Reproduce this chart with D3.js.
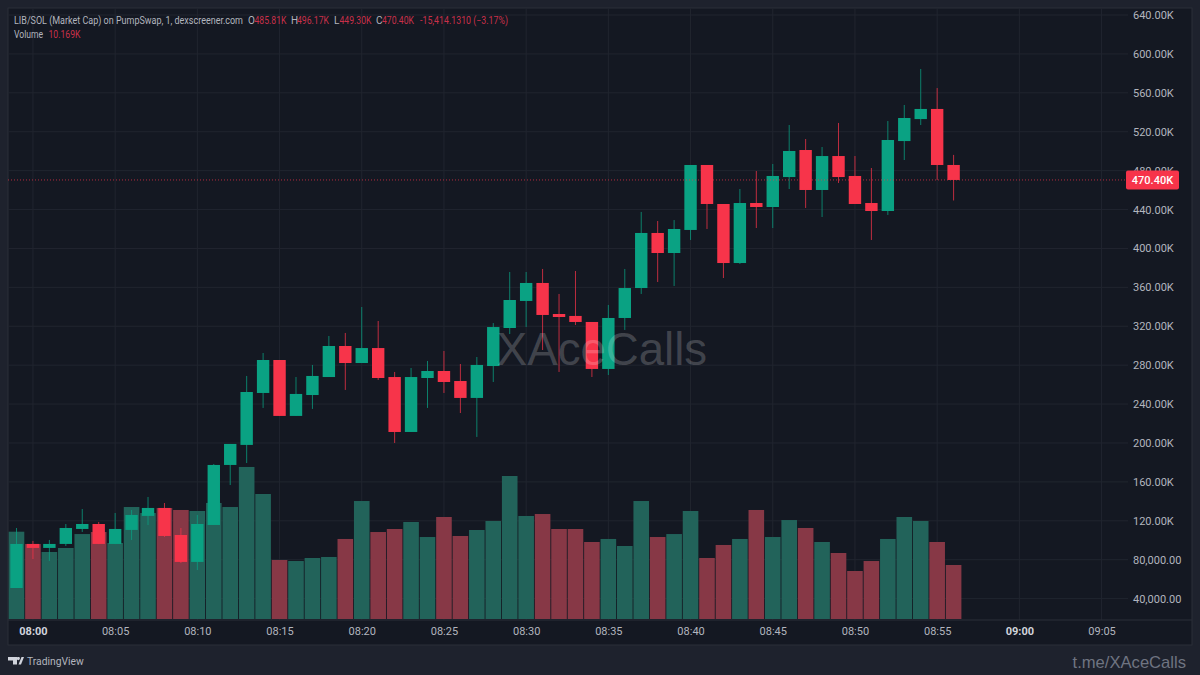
<!DOCTYPE html>
<html lang="en">
<head>
<meta charset="utf-8">
<title>LIB/SOL Market Cap</title>
<script src="https://cdn.jsdelivr.net/npm/d3@7"></script>
<style type="text/css">
    html, body { margin: 0; padding: 0; background: #1e222d; }
    svg { display: block; }
    text { font-family: Roboto, sans-serif; }
    .axis path, .axis line { display: none; }
    .axis text { font-size: 11px; fill: #b2b5be; }
</style>
</head>
<body>
<script type="text/javascript">
// values in thousands
var opens = [50.9,96.2,92.1,96.2,111.6,116.7,96.2,110.6,125,133.2,105.4,77.7,115.7,177.4,198,251.4,285.3,227.8,249.3,267.8,299.7,282.2,297.6,267.8,211.3,266.8,274,263.7,246.3,279.1,318.2,346,364.5,332.6,330.6,324.4,276.1,328.5,359.3,415.9,395.3,419,485.8,445.7,385,446.7,442.6,473.4,501.2,460.1,495,474.5,446.7,438.5,510.4,533,543.4,485.81];
var highs = [112.6,99.3,100.3,116.7,132.1,118.8,128,131.1,144.5,138.3,112.6,126,178.4,199,268.9,292.5,285.3,267.8,280.2,310,313.1,339.8,325.4,273,277.1,284.3,294.6,281.2,288.4,323.3,375.8,375.8,378.9,353.2,376.8,324.4,341.9,378.9,437.5,428.2,429.2,485.8,485.8,445.7,461.1,479.6,486.8,526.9,512.5,504.3,529,495,482.7,531,547.5,584.5,564.9,496.17];
var lows = [50.9,80.7,78.7,94.1,108.5,96,96,100.3,115.7,103.4,76.6,69.4,115.7,156.8,179.4,236,227.8,227.8,235,267.8,254.5,282.2,264.8,200,211.3,236,251.4,230.8,206.2,262.7,312,319.2,295.6,273,321.3,267.8,269.9,316.2,353.2,365.5,361.4,408.7,420,369.6,384,421,421,461.1,441.6,432.3,467.3,445.7,408.7,434.4,490.9,526.9,470.4,449.3];
var closes = [96.2,92.1,96.2,112.6,116.7,96.2,111.6,126,133.2,104.4,77.7,116.7,177.4,199,252.4,285.3,227.8,250.4,268.9,299.7,282.2,297.6,266.8,211.3,267.8,274,262.7,246.3,280.2,319.2,347,364.5,331.6,329.5,324.4,276.1,328.5,359.3,415.9,395.3,420,485.8,445.7,385,446.7,442.6,474.5,500.2,460.1,495,473.4,445.7,438.5,511.5,534.1,543.4,485.8,470.4];
var volumes = [16.44,14.12,12.62,13.37,16,16.38,14.31,21.09,19.96,20.9,20.53,20.34,21.85,21.09,28.63,23.54,11.11,10.92,11.49,11.68,15.07,22.22,16.38,16.95,18.27,15.44,19.21,15.63,16.76,18.46,26.93,19.4,19.77,16.95,16.95,14.5,15.07,13.75,22.22,15.44,16,20.34,11.49,13.94,15.07,20.53,15.44,18.64,17.14,14.5,12.43,9.04,10.92,15.07,19.21,18.46,14.5,10.169];
// volume colour does not always follow the candle
var volumeUp = [1,0,1,1,1,0,1,1,1,0,0,1,1,1,1,1,0,1,1,1,0,1,0,0,1,1,0,0,1,1,1,1,0,0,0,0,1,1,1,0,1,1,0,0,1,0,1,1,0,1,0,0,0,1,1,1,0,0];

var priceTicks = [640,600,560,520,480,440,400,360,320,280,240,200,160,120,80,40];
var timeTicks = [1,6,11,16,21,26,31,36,41,46,51,56,61,66];
var timeLabels = ["08:00","08:05","08:10","08:15","08:20","08:25","08:30","08:35","08:40","08:45","08:50","08:55","09:00","09:05"];
var lastPrice = 470.4;

var legendTitle = "LIB/SOL (Market Cap) on PumpSwap, 1, dexscreener.com";
var legendLabels = ["O","H","L","C"];
var legendValues = ["485.81K","496.17K","449.30K","470.40K"];
var legendChange = "-15,414.1310 (−3.17%)";
var volumeLegend = "10.169K";

var w = 1200;
var h = 675;
var green = "#0aa283";
var red = "#f7344a";
var volGreen = "#22635a";
var volRed = "#873846";
var gridColor = "#21252f";

var paneLeft = 8, paneTop = 8, paneRight = 1192, paneBottom = 645, plotBottom = 620;

var x = d3.scaleLinear().domain([0, 57]).range([16.5, 953.6]);
var y = d3.scaleLinear().domain([640, 40]).range([15, 598.6]);
var yVol = d3.scaleLinear().domain([0, 10.169]).range([619, 565]);

var bodyW = 12.4;
var volW = 15.6;

var svg = d3.select("body").append("svg").attr("width", w).attr("height", h);

svg.append("rect").attr("width", w).attr("height", h).attr("fill", "#1e222d");
svg.append("rect")
    .attr("x", paneLeft).attr("y", paneTop)
    .attr("width", paneRight - paneLeft).attr("height", paneBottom - paneTop)
    .attr("fill", "#141822")
    .attr("stroke", "#2a2e39");

// grid
svg.selectAll(".hgrid").data(priceTicks).enter().append("line")
    .attr("x1", paneLeft).attr("x2", 1128)
    .attr("y1", function(d) { return y(d); }).attr("y2", function(d) { return y(d); })
    .attr("stroke", gridColor);
svg.selectAll(".vgrid").data(timeTicks).enter().append("line")
    .attr("x1", function(d) { return x(d); }).attr("x2", function(d) { return x(d); })
    .attr("y1", paneTop).attr("y2", plotBottom)
    .attr("stroke", gridColor);
svg.append("line")
    .attr("x1", paneLeft).attr("x2", paneRight)
    .attr("y1", plotBottom).attr("y2", plotBottom)
    .attr("stroke", "#2a2e39");

// volume
svg.selectAll(".vol").data(volumes).enter().append("rect")
    .attr("x", function(d, i) { return x(i) - volW / 2; })
    .attr("y", function(d) { return yVol(d); })
    .attr("width", volW)
    .attr("height", function(d) { return yVol(0) - yVol(d); })
    .attr("fill", function(d, i) { return volumeUp[i] ? volGreen : volRed; });

// wicks
svg.selectAll(".wick").data(opens).enter().append("line")
    .attr("x1", function(d, i) { return x(i); })
    .attr("x2", function(d, i) { return x(i); })
    .attr("y1", function(d, i) { return y(highs[i]); })
    .attr("y2", function(d, i) { return y(lows[i]); })
    .attr("stroke", function(d, i) { return closes[i] >= d ? green : red; })
    .attr("stroke-opacity", 0.75);

// bodies
svg.selectAll(".body").data(opens).enter().append("rect")
    .attr("x", function(d, i) { return x(i) - bodyW / 2; })
    .attr("y", function(d, i) { return y(Math.max(d, closes[i])); })
    .attr("width", bodyW)
    .attr("height", function(d, i) { return Math.abs(y(d) - y(closes[i])); })
    .attr("fill", function(d, i) { return closes[i] >= d ? green : red; });

// watermark goes over the candles
svg.append("text")
    .attr("x", 602).attr("y", 365)
    .attr("text-anchor", "middle")
    .style("font-family", "'Liberation Sans', sans-serif")
    .style("font-size", "45.6px")
    .attr("fill", "#ffffff").attr("fill-opacity", 0.2)
    .text("XAceCalls");

// last price line
svg.append("line")
    .attr("x1", paneLeft).attr("x2", 1126)
    .attr("y1", y(lastPrice)).attr("y2", y(lastPrice))
    .attr("stroke", red).attr("stroke-opacity", 0.7)
    .attr("stroke-dasharray", "1 2");

// price axis
var priceFormat = function(d) {
    return d >= 100 ? d3.format(".2f")(d) + "K" : d3.format(",.2f")(d * 1000);
};
svg.append("g")
    .attr("class", "axis")
    .attr("transform", "translate(1133,0)")
    .call(d3.axisRight(y).tickValues(priceTicks).tickFormat(priceFormat).tickSize(0).tickPadding(0));

svg.append("rect")
    .attr("x", 1126).attr("y", y(lastPrice) - 9.5)
    .attr("width", 53).attr("height", 19)
    .attr("rx", 2)
    .attr("fill", red);
svg.append("text")
    .attr("x", 1152.5).attr("y", y(lastPrice) + 4)
    .attr("text-anchor", "middle")
    .attr("fill", "#ffffff")
    .style("font-size", "11px")
    .style("font-weight", 500)
    .text(priceFormat(lastPrice));

// time axis
var timeAxis = svg.append("g")
    .attr("class", "axis")
    .attr("transform", "translate(0," + plotBottom + ")")
    .call(d3.axisBottom(x).tickValues(timeTicks)
        .tickFormat(function(d, i) { return timeLabels[i]; })
        .tickSize(0).tickPadding(7));
timeAxis.selectAll("text")
    .style("font-weight", function(d, i) { return /:00$/.test(timeLabels[i]) ? 700 : 400; })
    .style("fill", function(d, i) { return /:00$/.test(timeLabels[i]) ? "#d1d4dc" : "#b2b5be"; });

// legend, squeezed to the widths in the picture
var legend = svg.append("g").style("font-size", "10px");
var legendText = function(tx, ty, color, str, len) {
    var t = legend.append("text").attr("x", tx).attr("y", ty).attr("fill", color).text(str);
    if (len) t.attr("textLength", len).attr("lengthAdjust", "spacingAndGlyphs");
};
var grey = "#b2b5be";
var dimRed = "#c9304a";
var labelX = [248, 291, 334, 376];
var valueX = [254.5, 297, 339.5, 382];
legendText(14, 24, grey, legendTitle, 229);
legendLabels.forEach(function(d, i) { legendText(labelX[i], 24, grey, d); });
legendValues.forEach(function(d, i) { legendText(valueX[i], 24, dimRed, d, 32); });
legendText(420, 24, dimRed, legendChange, 88);
legendText(14, 38, grey, "Volume", 29);
legendText(48.5, 38, dimRed, volumeLegend, 32);

// footer
svg.append("path")
    .attr("d", "M8 657h9v7.5h-4v-4h-5z M17.5 657h1.6a1.6 1.6 0 1 1-1.6 0z M18.5 664.5l3-7.5h2.5l-3 7.5z")
    .attr("fill", "#d1d4dc");
svg.append("text")
    .attr("x", 27).attr("y", 665)
    .attr("fill", "#b2b5be")
    .style("font-size", "10.3px")
    .text("TradingView");
svg.append("text")
    .attr("x", 1186).attr("y", 668)
    .attr("text-anchor", "end")
    .attr("fill", "#6f7481")
    .style("font-family", "'Liberation Sans', sans-serif")
    .style("font-size", "16.6px")
    .text("t.me/XAceCalls");
</script>
</body>
</html>
